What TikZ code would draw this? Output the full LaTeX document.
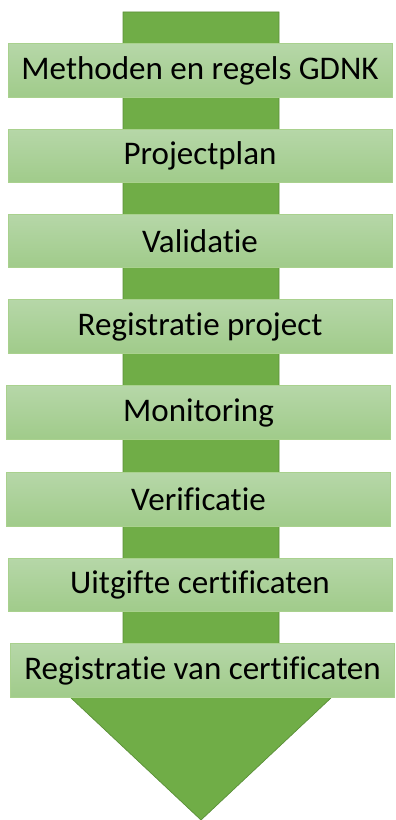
\documentclass[tikz,border=0pt]{standalone}
\usepackage{fontspec}
\setmainfont[RawFeature=-liga]{Carlito}

\definecolor{pijlgroen}{HTML}{70AD47}
\definecolor{pijlrand}{HTML}{5A8F38}
\definecolor{staptop}{HTML}{B6D7A8}
\definecolor{stapbodem}{HTML}{A0CB8A}
\definecolor{staprand}{HTML}{A9D18E}

\tikzset{
  stap/.style={draw=staprand, top color=staptop, bottom color=stapbodem,
    minimum width=7.68cm, minimum height=1.07cm, inner sep=0pt,
    font=\fontsize{18.8}{20}\selectfont},
}

\begin{document}
\begin{tikzpicture}[x=0.02cm,y=-0.02cm]
\useasboundingbox (0,0) rectangle (395,820);
% de grote pijl
\coordinate (T) at (201,820);
\draw[draw=pijlrand, fill=pijlgroen, line width=0.4pt]
  (123,12) -- (279,12) -- (279,697) -- (332,697) -- (T) -- (70,697) -- (123,697) -- cycle;
% de stappen
\node[stap] (methoden) at (200,70.5) {Methoden en regels GDNK};
\node[stap] (plan) at (200,156) {Projectplan};
\node[stap] (validatie) at (200,241) {Validatie};
\node[stap] (registratie) at (200,326.5) {Registratie project};
\node[stap] (monitoring) at (198.5,412.5) {Monitoring};
\node[stap] (verificatie) at (198.5,499.5) {Verificatie};
\node[stap] (uitgifte) at (200,585) {Uitgifte certificaten};
\node[stap] (certificaten) at (202.5,670.5) {Registratie van certificaten};
\end{tikzpicture}
\end{document}
